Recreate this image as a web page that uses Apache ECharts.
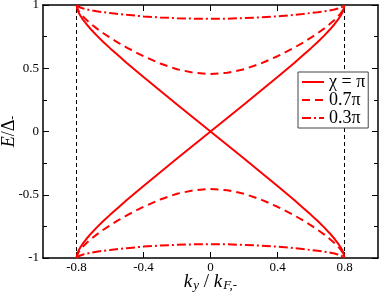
<!DOCTYPE html>
<html><head><meta charset="utf-8">
<script src="https://cdn.jsdelivr.net/npm/echarts@6/dist/echarts.min.js"></script>
<style>html,body{margin:0;padding:0;background:#fff}#c{width:382px;height:296px}</style>
</head><body><div id="c"></div>
<script>
// ky / k_F,-
const ky = [-0.8,-0.793,-0.785,-0.775,-0.76,-0.74,-0.71,-0.68,-0.64,-0.6,-0.55,-0.5,-0.4,-0.3,-0.2,-0.1,0,
            0.1,0.2,0.3,0.4,0.5,0.55,0.6,0.64,0.68,0.71,0.74,0.76,0.775,0.785,0.793,0.8];
// E/Δ (positive branch) for each phase difference
const ePi = [1.0,0.958,0.935,0.911,0.882,0.848,0.802,0.76,0.708,0.659,0.6,0.542,0.431,0.322,0.214,0.107,0,
             0.107,0.214,0.322,0.431,0.542,0.6,0.659,0.708,0.76,0.802,0.848,0.882,0.911,0.935,0.958,1.0];
const e07 = [1.0,0.967,0.949,0.93,0.908,0.881,0.847,0.815,0.777,0.742,0.701,0.663,0.595,0.537,0.492,0.464,0.454,
             0.464,0.492,0.537,0.595,0.663,0.701,0.742,0.777,0.815,0.847,0.881,0.908,0.93,0.949,0.967,1.0];
const e03 = [1.0,0.99,0.984,0.978,0.972,0.965,0.957,0.95,0.943,0.937,0.929,0.922,0.91,0.902,0.896,0.892,0.891,
             0.892,0.896,0.902,0.91,0.922,0.929,0.937,0.943,0.95,0.957,0.965,0.972,0.978,0.984,0.99,1.0];
const seriesNames = ['χ = π','0.7π','0.3π'];
const xTicks = [-0.8,-0.4,0,0.4,0.8];
const edgeK = [-0.8, 0.8];

const chart = echarts.init(document.getElementById('c'), null, {renderer:'canvas'});
const font = 'Liberation Serif';
const red = '#ff0000';
function mk(name, vals, sign, type){
  return {type:'line', name:name, symbol:'none', smooth:false, animation:false,
    data: ky.map((k,i)=>[k, sign*vals[i]]),
    lineStyle:{color:red, width:2, type:type}, itemStyle:{color:red}, z:3};
}
const dashT = [8,5];
const dashDotT = [9,3,2,3];
const series = [
  mk(seriesNames[0], ePi, 1, 'solid'), mk(seriesNames[0], ePi, -1, 'solid'),
  mk(seriesNames[1], e07, 1, dashT), mk(seriesNames[1], e07, -1, dashT),
  mk(seriesNames[2], e03, 1, dashDotT), mk(seriesNames[2], e03, -1, dashDotT)
];
edgeK.forEach(k=>{
  series.push({type:'line', name:'edge'+k, symbol:'none', silent:true, animation:false,
    data:[[k,-1],[k,1]], lineStyle:{color:'#000', width:1, type:[4,3]}, z:2});
});
const axLine = {show:true, onZero:false, lineStyle:{color:'#000', width:1.5}};
chart.setOption({
  animation:false,
  grid:{left:43, right:4, top:5, bottom:38, containLabel:false, outerBoundsMode:'none'},
  legend:{data:seriesNames, orient:'vertical', left:298, top:72, itemWidth:22, itemHeight:13,
    itemGap:0, padding:[1,3,1,3], borderColor:'#444', borderWidth:1, backgroundColor:'#fff',
    itemStyle:{opacity:0},
    textStyle:{fontFamily:font, fontSize:18, lineHeight:13, color:'#000'}},
  xAxis:[{type:'value', min:-1, max:1, position:'bottom', axisLine:axLine,
      axisTick:{inside:true, length:6, customValues:xTicks, lineStyle:{color:'#000'}},
      axisLabel:{customValues:xTicks, fontFamily:font, fontSize:13, color:'#000', margin:3,
        formatter:v=>String(v)},
      splitLine:{show:false},
      name:'{i|k}{s|y}{n| / }{i|k}{s|F,-}', nameLocation:'middle', nameGap:14, nameMoveOverlap:false,
      nameTextStyle:{rich:{
        i:{fontFamily:font, fontStyle:'italic', fontSize:19, color:'#000', lineHeight:20},
        n:{fontFamily:font, fontSize:19, color:'#000', lineHeight:20},
        s:{fontFamily:font, fontStyle:'italic', fontSize:13, color:'#000', lineHeight:13, verticalAlign:'bottom', padding:[8,0,0,1]}
      }}},
    {type:'value', min:-1, max:1, position:'top', axisLine:axLine,
      axisTick:{inside:true, length:6, customValues:xTicks, lineStyle:{color:'#000'}},
      axisLabel:{show:false}, splitLine:{show:false}}],
  yAxis:[{type:'value', min:-1, max:1, interval:0.5, position:'left', axisLine:axLine,
      axisTick:{inside:true, length:6, lineStyle:{color:'#000'}},
      minorTick:{show:true, splitNumber:2, length:4, lineStyle:{color:'#000'}},
      axisLabel:{fontFamily:font, fontSize:13, color:'#000', margin:4},
      splitLine:{show:false}, minorSplitLine:{show:false},
      name:'{i|E}{n|/Δ}{s|-}', nameLocation:'middle', nameGap:24, nameRotate:90, nameMoveOverlap:false,
      nameTextStyle:{rich:{
        i:{fontFamily:font, fontStyle:'italic', fontSize:18, color:'#000', lineHeight:20},
        n:{fontFamily:font, fontSize:18, color:'#000', lineHeight:20},
        s:{fontFamily:font, fontSize:12, color:'#000', lineHeight:12, verticalAlign:'bottom', padding:[8,0,0,0]}
      }}},
    {type:'value', min:-1, max:1, interval:0.5, position:'right', axisLine:axLine,
      axisTick:{inside:true, length:6, lineStyle:{color:'#000'}},
      minorTick:{show:true, splitNumber:2, length:4, lineStyle:{color:'#000'}},
      axisLabel:{show:false}, splitLine:{show:false}, minorSplitLine:{show:false}}],
  series:series
});
</script></body></html>
